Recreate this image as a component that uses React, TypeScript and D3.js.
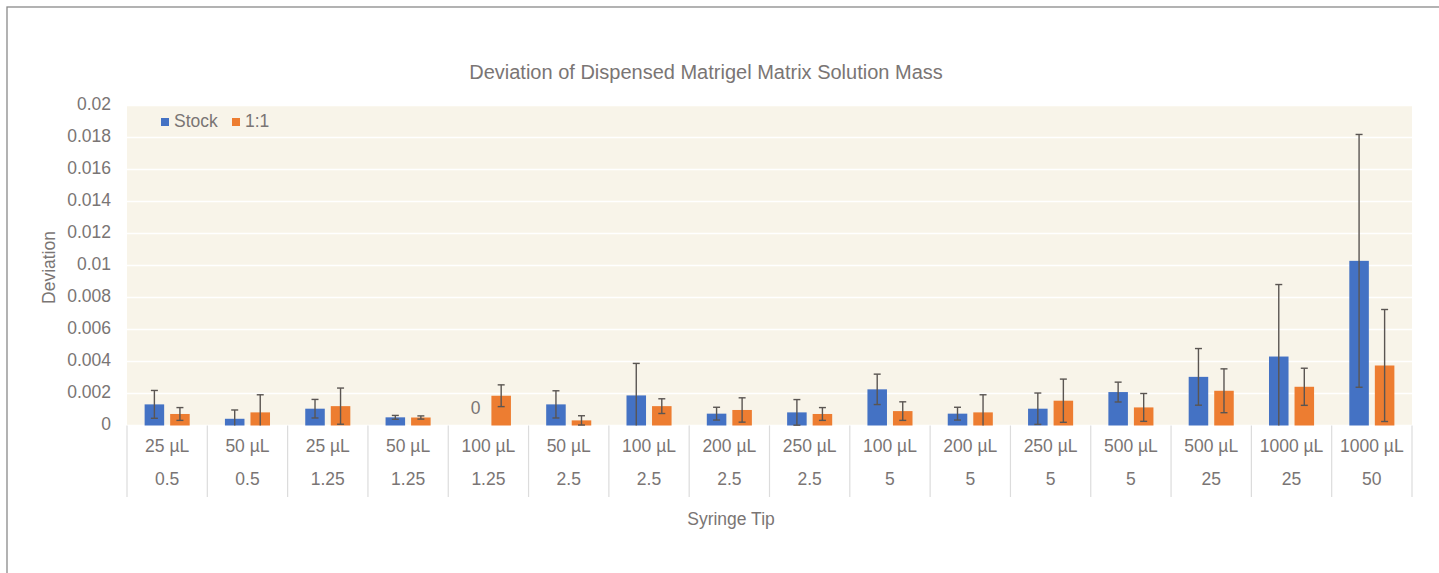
import * as d3 from 'd3';

// syringe tip / dispensed volume categories (two-row axis)
const tipSizes = ['25 µL', '50 µL', '25 µL', '50 µL', '100 µL', '50 µL', '100 µL', '200 µL', '250 µL', '100 µL', '200 µL', '250 µL', '500 µL', '500 µL', '1000 µL', '1000 µL'];
const volumes = ['0.5', '0.5', '1.25', '1.25', '1.25', '2.5', '2.5', '2.5', '2.5', '5', '5', '5', '5', '25', '25', '50'];

const seriesNames = ['Stock', '1:1'];
const stockMean = [0.00132, 0.00042, 0.00105, 0.00051, 0, 0.00132, 0.00188, 0.00074, 0.00082, 0.00226, 0.00074, 0.00105, 0.00209, 0.00304, 0.00431, 0.01029];
const stockErr = [0.00087, 0.00055, 0.00058, 0.00012, 0, 0.00085, 0.002, 0.0004, 0.0008, 0.00095, 0.0004, 0.00098, 0.00062, 0.00177, 0.0045, 0.0079];
const mixMean = [0.00072, 0.00082, 0.00121, 0.0005, 0.00186, 0.00032, 0.00121, 0.00097, 0.00072, 0.0009, 0.00082, 0.00155, 0.00113, 0.00217, 0.00242, 0.00375];
const mixErr = [0.0004, 0.0011, 0.00113, 0.0001, 0.00068, 0.00029, 0.00046, 0.00076, 0.0004, 0.00058, 0.0011, 0.00135, 0.00087, 0.00137, 0.00116, 0.0035];

const yTicks = [0, 0.002, 0.004, 0.006, 0.008, 0.01, 0.012, 0.014, 0.016, 0.018, 0.02];

const colors = ['#4472C4', '#ED7D31'];
const textColor = '#7a7574';
const font = '"Liberation Sans", Arial, sans-serif';
const fs = 17.5;

export default function App() {
  const width = 1439;
  const height = 573;
  const plot = { left: 127, right: 1412, top: 105.5, bottom: 425.5 };
  const tableBottom = 497;

  const cats = d3.range(tipSizes.length);
  const x = d3.scaleBand<number>().domain(cats).range([plot.left, plot.right]).padding(0);
  const xSub = d3.scaleBand<string>()
    .domain(seriesNames)
    .range([0, x.bandwidth()])
    .paddingInner(0.235)
    .paddingOuter(0.69);
  const y = d3.scaleLinear().domain([0, 0.02]).range([plot.bottom, plot.top]);

  const series = [
    { name: 'Stock', mean: stockMean, err: stockErr },
    { name: '1:1', mean: mixMean, err: mixErr },
  ];

  const fmt = (v: number) => (v === 0 ? '0' : String(+v.toFixed(3)));

  return (
    <div style={{ position: 'absolute', left: 0, top: 0 }}>
      <svg width={width} height={height} style={{ display: 'block', fontFamily: font }}>
        <rect x={0} y={0} width={width} height={height} fill="#ffffff" />
        <rect x={7} y={7} width={width + 20} height={height + 20} fill="none" stroke="#8a8a8a" strokeWidth={1.3} />

        <text x={706} y={74} textAnchor="middle" dominantBaseline="middle" fontSize={20} fill={textColor}>
          Deviation of Dispensed Matrigel Matrix Solution Mass
        </text>

        {/* plot area */}
        <rect x={plot.left} y={plot.top} width={plot.right - plot.left} height={plot.bottom - plot.top} fill="#F8F4E9" />
        {yTicks.map(t => (
          <line key={t} x1={plot.left} x2={plot.right} y1={y(t)} y2={y(t)} stroke="#ffffff" strokeWidth={1.5} />
        ))}
        {yTicks.map(t => (
          <text key={'l' + t} x={111} y={y(t)} textAnchor="end" dominantBaseline="middle" fontSize={fs} fill={textColor}>
            {fmt(t)}
          </text>
        ))}
        <text
          transform={`translate(50, ${(plot.top + plot.bottom) / 2 + 2}) rotate(-90)`}
          textAnchor="middle"
          dominantBaseline="middle"
          fontSize={fs}
          fill={textColor}
        >
          Deviation
        </text>

        {/* bars */}
        {series.map((s, si) => (
          <g key={s.name}>
            {cats.map(i => (
              <rect
                key={i}
                x={(x(i) ?? 0) + (xSub(s.name) ?? 0)}
                y={y(s.mean[i])}
                width={xSub.bandwidth()}
                height={y(0) - y(s.mean[i])}
                fill={colors[si]}
              />
            ))}
          </g>
        ))}

        {/* error bars */}
        {series.map(s => (
          <g key={'e' + s.name} stroke="#5a5552" strokeWidth={1.4}>
            {cats.filter(i => s.mean[i] > 0).map(i => {
              const cx = (x(i) ?? 0) + (xSub(s.name) ?? 0) + xSub.bandwidth() / 2;
              const hi = y(Math.min(0.02, s.mean[i] + s.err[i]));
              const loV = s.mean[i] - s.err[i];
              const lo = y(Math.max(0, loV));
              return (
                <g key={i}>
                  <line x1={cx} x2={cx} y1={hi} y2={lo} />
                  <line x1={cx - 3.5} x2={cx + 3.5} y1={hi} y2={hi} />
                  {loV > 0 && <line x1={cx - 3.5} x2={cx + 3.5} y1={lo} y2={lo} />}
                </g>
              );
            })}
          </g>
        ))}

        {/* zero value label */}
        {series.map(s =>
          cats.filter(i => s.mean[i] === 0).map(i => (
            <text
              key={'z' + s.name + i}
              x={(x(i) ?? 0) + (xSub(s.name) ?? 0) + xSub.bandwidth() / 2}
              y={y(0) - 16}
              textAnchor="middle"
              dominantBaseline="middle"
              fontSize={fs}
              fill={textColor}
            >
              0
            </text>
          ))
        )}

        {/* category table */}
        {d3.range(cats.length + 1).map(i => {
          const lx = i < cats.length ? (x(i) ?? 0) : plot.right;
          return <line key={'s' + i} x1={lx} x2={lx} y1={plot.bottom} y2={tableBottom} stroke="#dcdcdc" strokeWidth={1.2} />;
        })}
        {cats.map(i => (
          <g key={'c' + i}>
            <text x={(x(i) ?? 0) + x.bandwidth() / 2} y={447} textAnchor="middle" dominantBaseline="middle" fontSize={fs} fill={textColor}>
              {tipSizes[i]}
            </text>
            <text x={(x(i) ?? 0) + x.bandwidth() / 2} y={480} textAnchor="middle" dominantBaseline="middle" fontSize={fs} fill={textColor}>
              {volumes[i]}
            </text>
          </g>
        ))}

        <text x={731} y={520} textAnchor="middle" dominantBaseline="middle" fontSize={fs} fill={textColor}>
          Syringe Tip
        </text>

        {/* legend */}
        <g>
          <rect x={161} y={118} width={8} height={8} fill={colors[0]} />
          <text x={174} y={122.5} dominantBaseline="middle" fontSize={fs} fill={textColor}>Stock</text>
          <rect x={232} y={118} width={8} height={8} fill={colors[1]} />
          <text x={245} y={122.5} dominantBaseline="middle" fontSize={fs} fill={textColor}>1:1</text>
        </g>
      </svg>
    </div>
  );
}
